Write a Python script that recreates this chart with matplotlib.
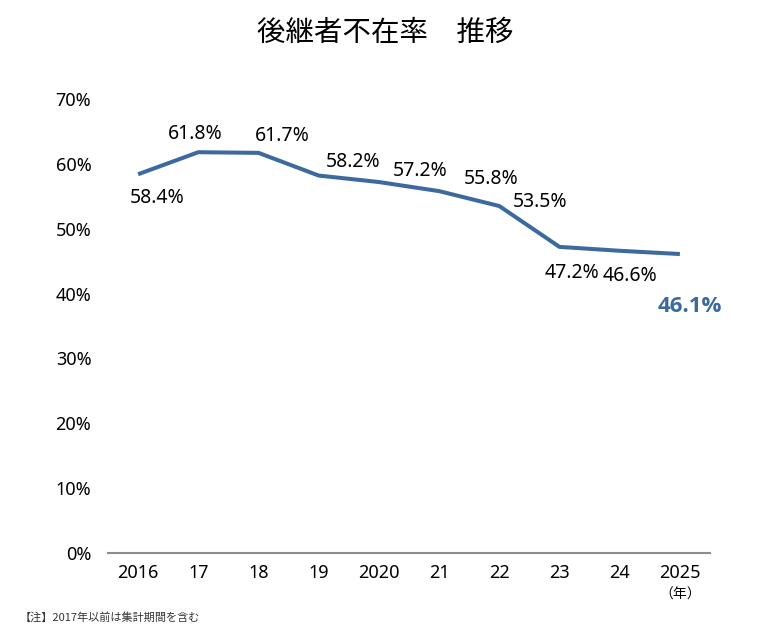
"""
後継者不在率の推移（折れ線グラフ）
"""

import matplotlib.pyplot as plt
from matplotlib.ticker import PercentFormatter

plt.rcParams["font.family"] = ["Noto Sans", "Noto Sans CJK JP", "DejaVu Sans"]

# データ
years = ["2016", "17", "18", "19", "2020", "21", "22", "23", "24", "2025"]
rates = [58.4, 61.8, 61.7, 58.2, 57.2, 55.8, 53.5, 47.2, 46.6, 46.1]
rate_labels = ["58.4%", "61.8%", "61.7%", "58.2%", "57.2%",
               "55.8%", "53.5%", "47.2%", "46.6%", "46.1%"]

LINE_COLOR = "#3d6a9e"
JP = ["Noto Sans CJK JP", "DejaVu Sans"]

# ラベルの位置ずらし（ピクセル）
label_offsets = [(19, -24), (-3, 18), (24, 17), (34, 14), (41, 11),
                 (52, 12), (41, 4), (13, -26), (10, -25), (10, -52)]


def main():
    fig = plt.figure(figsize=(7.6, 6.24), dpi=100)
    ax = fig.add_axes([0.1421, 0.1138, 0.7921, 0.7275])

    x = list(range(len(years)))
    ax.plot(x, rates, color=LINE_COLOR, linewidth=2.9, solid_capstyle="butt")

    for i, (val, lab) in enumerate(zip(rates, rate_labels)):
        dx, dy = label_offsets[i]
        if i == len(rates) - 1:
            # 最新値は強調
            ax.annotate(lab, (i, val), xytext=(dx, dy), textcoords="offset pixels",
                        ha="center", va="center", fontsize=16, fontweight="bold",
                        family=["Open Sans", "DejaVu Sans"], color=LINE_COLOR)
        else:
            ax.annotate(lab, (i, val), xytext=(dx, dy), textcoords="offset pixels",
                        ha="center", va="center", fontsize=14, color="black")

    ax.set_xlim(-0.5, len(years) - 0.5)
    ax.set_ylim(0, 70)
    ax.set_xticks(x)
    ax.set_xticklabels(years, fontsize=13)
    ax.set_yticks(range(0, 71, 10))
    ax.yaxis.set_major_formatter(PercentFormatter(decimals=0))
    ax.tick_params(axis="y", length=0, pad=12, labelsize=13)
    ax.tick_params(axis="x", length=0, pad=8)

    for side in ["top", "right", "left"]:
        ax.spines[side].set_visible(False)
    ax.spines["bottom"].set_color("#8c8c8c")
    ax.spines["bottom"].set_linewidth(1.5)

    ax.text(9, -6.4, "（年）", ha="center", va="center", fontsize=10,
            family=JP, transform=ax.transData)

    fig.text(0.507, 0.947, "後継者不在率　推移", ha="center", va="center",
             fontsize=20.5, family=JP)
    fig.text(0.026, 0.002, "【注】2017年以前は集計期間を含む", ha="left",
             va="bottom", fontsize=8, color="#333333", family=JP)

    fig.savefig("out.png", dpi=100)
    plt.close(fig)


if __name__ == "__main__":
    main()
